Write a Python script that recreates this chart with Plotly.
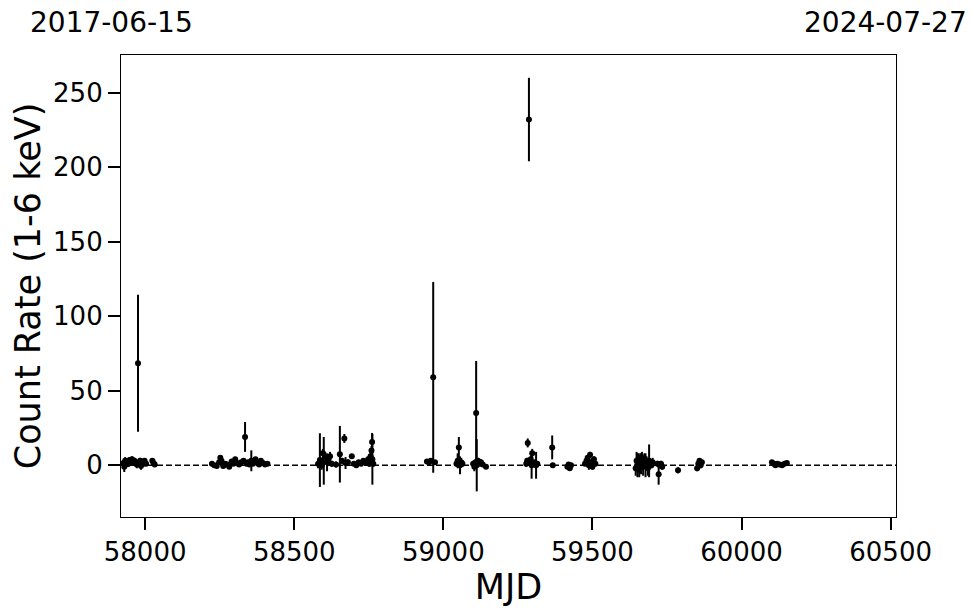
import plotly.graph_objects as go

# Observation dates (MJD), count rates (1-6 keV) and 1-sigma errors
mjd = [
    # 2017 cluster
    57927, 57930, 57933, 57936, 57940, 57944, 57948, 57952, 57956, 57960,
    57964, 57968, 57972, 57976, 57983, 57986, 57990, 57994, 57998, 58003,
    58024, 58028, 58032,
    # 2018 cluster
    58224, 58232, 58240, 58248, 58252, 58256, 58262, 58268, 58275, 58282,
    58290, 58296, 58302, 58308, 58315, 58322, 58330, 58335, 58340, 58345,
    58350, 58356, 58362, 58370, 58376, 58382, 58388, 58395, 58402, 58410,
    # 2019 cluster
    58580, 58586, 58592, 58596, 58599, 58604, 58610, 58615, 58620, 58626,
    58640, 58653, 58660, 58668, 58672, 58680, 58693, 58700, 58708, 58716,
    58724, 58732, 58740, 58748, 58752, 58756, 58759, 58761, 58762, 58765,
    # 2020 cluster
    58945, 58952, 58958, 58966, 58972,
    59044, 59048, 59052, 59056, 59060, 59064,
    59100, 59104, 59108, 59110, 59112, 59116, 59120, 59126, 59132, 59143,
    # 2021 cluster
    59278, 59281, 59283, 59287, 59290, 59293, 59296, 59298, 59302, 59306,
    59311, 59315, 59365, 59367,
    59416, 59420, 59424, 59428,
    59475, 59480, 59484, 59488, 59492, 59496, 59500, 59505, 59510,
    # 2022 cluster
    59645, 59648, 59651, 59654, 59657, 59660, 59663, 59666, 59670, 59674,
    59678, 59682, 59686, 59690, 59694, 59698, 59702,
    59718, 59722, 59726, 59730, 59734,
    59787,
    59851, 59855, 59859, 59863, 59867,
    # 2023 cluster
    60102, 60108, 60114, 60120, 60128, 60136, 60144, 60152,
]

rate = [
    1.5, -1.0, 3.0, 0.5, 2.0, 1.0, 3.5, 2.5, 4.0, 1.5,
    3.0, 2.0, 0.5, 68.5, 3.0, -0.5, 2.5, 1.0, 3.0, 1.0,
    3.0, 1.5, 0.5,
    1.0, 0.0, -0.5, 2.0, 5.0, 3.0, -0.5, 1.0, 0.5, -1.0,
    2.5, 1.0, 4.0, 1.5, 0.5, 2.0, 3.0, 19.0, 1.0, 2.0,
    0.5, 3.0, 1.0, 4.0, 2.0, 0.5, 3.0, 1.5, 0.5, 1.0,
    1.0, 3.5, 0.0, 8.0, 3.0, 5.0, 2.0, 4.0, 6.0, 1.0,
    0.5, 7.4, 3.0, 18.0, 1.5, 2.0, 6.0, 1.0, 0.0, 2.0,
    1.0, 3.0, 2.0, 4.0, 1.0, 6.0, 10.0, 15.7, 4.0, 1.0,
    2.5, 2.0, 3.0, 59.0, 2.0,
    1.0, 3.0, 12.0, 0.0, 2.0, 1.0,
    1.0, -1.0, 2.0, 35.0, 0.0, 3.0, 1.0, 2.0, 0.5, -1.0,
    1.0, 3.0, 15.0, 232.0, 2.0, 4.0, 0.0, 8.0, 1.0, 2.0,
    0.0, 1.0, 12.0, 0.0,
    -1.0, 0.5, -2.0, 0.0,
    1.0, 3.0, 5.0, 0.0, 7.0, 2.0, -1.0, 4.0, 1.0,
    -2.0, 3.0, 0.0, 4.0, -3.0, 2.0, 1.0, 5.0, -1.0, 3.0,
    0.0, 2.0, -2.0, 3.0, 1.0, 0.0, 2.0,
    1.0, -6.0, 0.0, 1.0, -1.0,
    -3.4,
    -2.0, 1.0, 3.0, 0.0, 2.0,
    2.0, 1.0, 0.0, 1.0, 0.5, 0.0, 1.0, 1.5,
]

err = [
    2.0, 3.5, 2.5, 2.0, 1.5, 2.0, 2.0, 1.5, 2.0, 1.5,
    2.0, 1.5, 2.5, 46.0, 2.0, 2.5, 1.5, 1.5, 1.5, 1.5,
    1.5, 1.5, 1.0,
    1.0, 1.0, 1.0, 1.5, 1.5, 1.5, 1.0, 1.0, 1.0, 1.0,
    1.5, 1.0, 1.5, 1.0, 1.0, 1.5, 1.5, 10.0, 1.0, 1.5,
    1.0, 7.0, 1.0, 1.5, 1.0, 1.0, 1.5, 1.0, 1.0, 1.0,
    3.0, 18.0, 3.0, 3.0, 16.0, 4.0, 6.0, 3.0, 3.0, 2.0,
    2.0, 19.0, 2.0, 3.0, 4.0, 2.0, 1.5, 1.5, 1.5, 1.5,
    1.5, 1.5, 2.0, 2.0, 2.0, 3.0, 3.0, 6.0, 17.0, 2.0,
    1.0, 1.0, 1.0, 64.0, 1.0,
    2.0, 5.0, 7.0, 6.0, 3.0, 2.0,
    2.0, 3.0, 2.0, 35.0, 17.5, 2.0, 1.5, 2.0, 1.5, 1.5,
    2.0, 2.0, 3.0, 28.0, 2.0, 2.0, 9.0, 3.0, 2.0, 1.5,
    9.0, 1.5, 8.0, 1.5,
    1.5, 1.5, 1.5, 1.0,
    1.5, 2.0, 2.0, 3.0, 2.0, 2.0, 2.0, 2.0, 1.5,
    5.0, 6.0, 8.0, 4.0, 5.0, 6.0, 7.0, 4.0, 6.0, 5.0,
    8.0, 4.0, 5.0, 11.0, 3.0, 2.0, 3.0,
    2.0, 7.0, 2.0, 2.0, 2.0,
    2.0,
    2.0, 1.5, 1.5, 2.0, 1.5,
    1.0, 1.0, 1.0, 1.0, 1.0, 1.0, 1.0, 1.0,
]

x_range = [57919, 60518]
y_range = [-34.7, 275.3]
x_ticks = [58000, 58500, 59000, 59500, 60000, 60500]
y_ticks = [0, 50, 100, 150, 200, 250]
start_label = "2017-06-15"
end_label = "2024-07-27"

FONT = "DejaVu Sans"

fig = go.Figure()
fig.add_trace(go.Scatter(
    x=mjd, y=rate, mode="markers",
    marker=dict(color="black", size=6),
    error_y=dict(type="data", array=err, visible=True,
                 color="black", thickness=2, width=0),
    showlegend=False,
))

fig.add_shape(type="line", xref="paper", yref="y", x0=0, x1=1, y0=0, y1=0,
              line=dict(color="black", width=1.5, dash="6px,3px"))

fig.add_annotation(text=start_label, xref="paper", yref="paper",
                   x=-0.12, y=1.0714, xanchor="left", yanchor="middle",
                   showarrow=False, font=dict(size=28, color="black", family=FONT))
fig.add_annotation(text=end_label, xref="paper", yref="paper",
                   x=1.094, y=1.0714, xanchor="right", yanchor="middle",
                   showarrow=False, font=dict(size=28, color="black", family=FONT))

axis_common = dict(
    showgrid=False, zeroline=False, showline=True, linecolor="black",
    linewidth=1.2, mirror=True, ticks="outside", ticklen=12, tickwidth=2,
    tickcolor="black", tickfont=dict(size=26, color="black", family=FONT),
)

fig.update_xaxes(range=x_range, tickvals=x_ticks, tickformat="d", **axis_common,
                 title=dict(text="MJD", font=dict(size=35, color="black", family=FONT),
                            standoff=4))
fig.update_yaxes(range=y_range, tickvals=y_ticks, tickformat="d", **axis_common,
                 title=dict(text="Count Rate (1-6 keV)",
                            font=dict(size=35, color="black", family=FONT),
                            standoff=6))

fig.update_layout(
    width=974, height=613,
    margin=dict(l=113, r=86, t=47, b=104),
    plot_bgcolor="white", paper_bgcolor="white",
    font=dict(family=FONT, color="black"),
)

fig.write_html("out.html")
